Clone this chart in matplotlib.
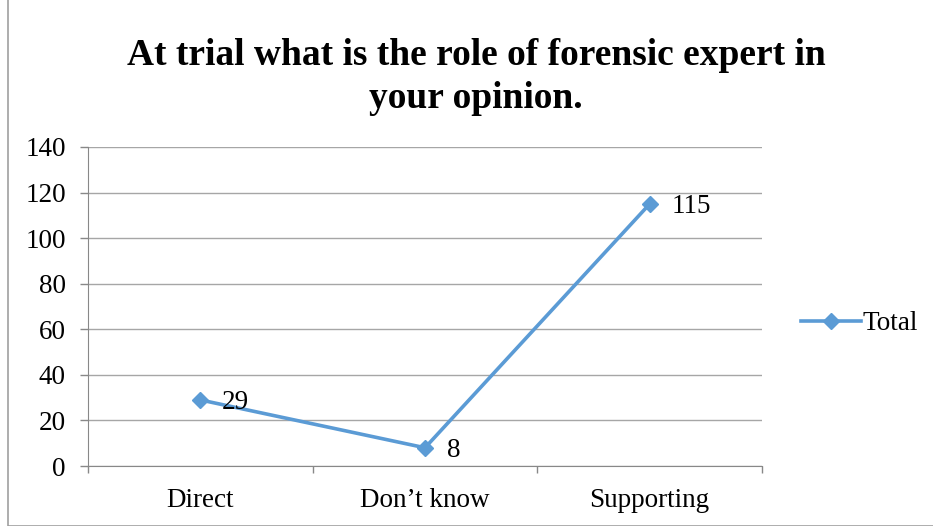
import matplotlib.pyplot as plt
from matplotlib.patches import Rectangle

categories = ["Direct", "Don\u2019t know", "Supporting"]
totals = [29, 8, 115]

plt.rcParams['font.family'] = ['Liberation Serif', 'DejaVu Serif']

fig = plt.figure(figsize=(9.33, 5.26), dpi=100)
ax = fig.add_axes([88 / 933, 1 - 466 / 526, (762 - 88) / 933, (466 - 147) / 526])

x = list(range(len(categories)))
line, = ax.plot(x, totals, color='#5B9BD5', linewidth=2.6, marker='D',
                markersize=8.5, label='Total')
for xi, v in zip(x, totals):
    ax.annotate(str(v), (xi, v), xytext=(15.5, -2), textcoords='offset points',
                ha='left', va='center', fontsize=19.5)

ax.set_xlim(-0.5, len(categories) - 0.5)
ax.set_ylim(0, 140)
ax.set_yticks(range(0, 141, 20))
ax.set_xticks(x)
ax.set_xticklabels(categories, fontsize=19.5)
ax.tick_params(axis='y', labelsize=19.5, length=6, width=1, color='#888888', pad=10)
ax.tick_params(axis='x', length=0, pad=16)
# category boundary ticks
ax.set_xticks([-0.5, 0.5, 1.5, 2.5], minor=True)
ax.tick_params(axis='x', which='minor', length=5, width=1, color='#888888')

ax.grid(axis='y', color='#a6a6a6', linewidth=1)
ax.set_axisbelow(True)
for side in ['top', 'right']:
    ax.spines[side].set_visible(False)
ax.spines['left'].set_color('#888888')
ax.spines['bottom'].set_color('#888888')

fig.suptitle("At trial what is the role of forensic expert in\nyour opinion.",
             x=476 / 933, y=1 - 38 / 526, fontsize=27, fontweight='bold',
             linespacing=1.3, va='top')

fig.legend(handles=[line], loc='center left', bbox_to_anchor=(777 / 933, 1 - 324 / 526),
           frameon=False, fontsize=19.5, handlelength=2.2, handletextpad=0.05)

fig.patches.append(Rectangle((8 / 933, 0), 1, 1.2, transform=fig.transFigure,
                             fill=False, edgecolor='#a0a0a0', linewidth=1.2))

fig.savefig('out.png', dpi=100)
